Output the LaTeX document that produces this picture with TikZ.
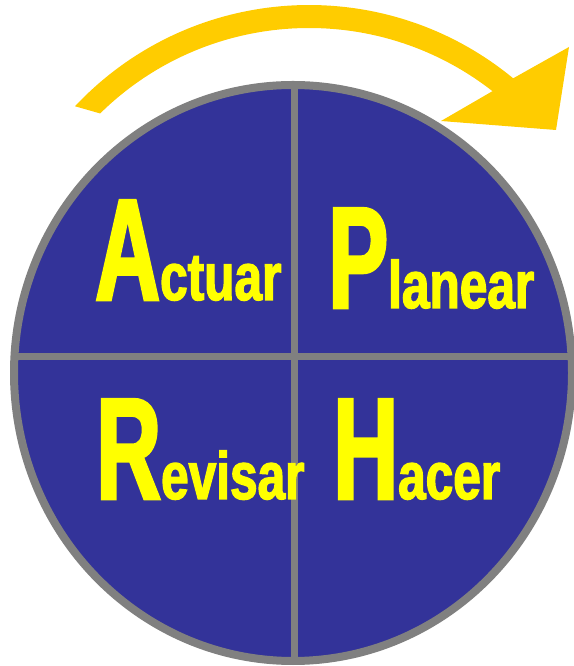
\documentclass[tikz,border=0pt]{standalone}
\usepackage{fontspec}
\newfontfamily\capfont[FakeStretch=0.62,FakeBold=2]{Liberation Sans Bold}
\newfontfamily\restfont[FakeStretch=0.74,FakeBold=2]{Liberation Sans Bold}
\definecolor{cycleblue}{HTML}{333399}
\definecolor{rimgrey}{HTML}{808080}
\definecolor{wordyellow}{HTML}{FFFF00}
\definecolor{arrowgold}{HTML}{FFCC00}

\begin{document}
\begin{tikzpicture}[x=1pt,y=1pt,
  rim/.style={draw=rimgrey,line width=8pt},
  divider/.style={draw=rimgrey,line width=7pt},
  word/.style={anchor=base west,inner sep=0pt,text=wordyellow}]
  \useasboundingbox (0,0) rectangle (573,666);

  % Disk and its quarters.
  \coordinate (ctr) at (293,293);
  \fill[cycleblue] (ctr) ellipse [x radius=279pt, y radius=288pt];
  \begin{scope}
    \clip (ctr) ellipse [x radius=279pt, y radius=288pt];
    \draw[divider] (294,0) -- (294,666);
    \draw[divider] (0,309) -- (573,309);
  \end{scope}
  \draw[rim] (ctr) ellipse [x radius=279pt, y radius=288pt];

  % Turning arrow above the disk: band plus head.
  \coordinate (turn) at (309,340);
  \fill[arrowgold] ([shift={(turn)}]136.8:321)
    arc[start angle=136.8, end angle=50.5, radius=321pt]
    -- (569,619) -- (556,536) -- (441,545)
    -- ([shift={(turn)}]52:298)
    arc[start angle=52, end angle=134.5, radius=298pt] -- cycle;

  % The four steps.
  \foreach \name/\pos/\first/\rest in {act/{95,366}/A/ctuar,
                                      plan/{328,358}/P/lanear,
                                      rev/{96,167}/R/evisar,
                                      hac/{333,167}/H/acer}{
    \node[word] (\name) at (\pos)
      {\fontsize{145}{145}\capfont\first\fontsize{67}{67}\restfont\rest};
  }
\end{tikzpicture}
\end{document}
